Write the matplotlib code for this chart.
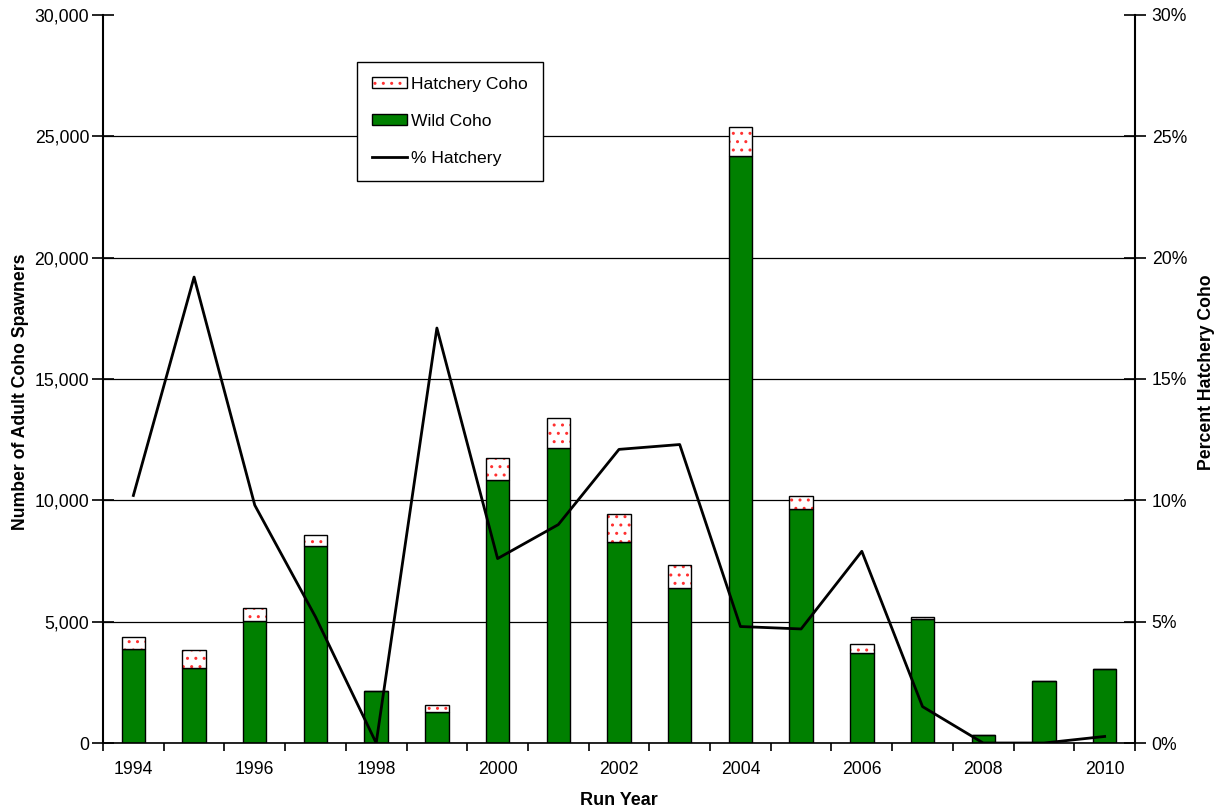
import numpy as np
import matplotlib
matplotlib.use('Agg')
import matplotlib.pyplot as plt
from matplotlib.patches import Patch
from matplotlib.lines import Line2D

plt.rcParams['font.family'] = ['Liberation Sans', 'DejaVu Sans']

years = list(range(1994, 2011))
wild = [3890, 3110, 5040, 8120, 2140, 1290, 10850, 12160, 8280, 6400, 24170, 9660, 3720, 5110, 320, 2550, 3040]
hatchery = [470, 740, 520, 450, 0, 290, 910, 1250, 1140, 920, 1210, 500, 360, 80, 0, 0, 10]
pct_hatchery = [10.2, 19.2, 9.8, 5.2, 0.0, 17.1, 7.6, 9.0, 12.1, 12.3, 4.8, 4.7, 7.9, 1.5, 0.0, 0.0, 0.27]

x = np.arange(len(years))
w = 0.385
green = '#008000'
dotred = '#ff3030'

fig = plt.figure(figsize=(12.22, 8.10), dpi=100)
ax = fig.add_axes([0.0843, 0.0827, 0.8445, 0.8988])

ax.set_axisbelow(True)
ax.yaxis.grid(True, color='black', linewidth=0.9)
ax.bar(x, wild, w, color=green, edgecolor='black', linewidth=1.0, zorder=2)
# hatchery part: red dots on white, then black outline on top
ax.bar(x, hatchery, w, bottom=wild, color='white', edgecolor=dotred, hatch='..', linewidth=0, zorder=2)
ax.bar(x, hatchery, w, bottom=wild, fill=False, edgecolor='black', linewidth=1.0, zorder=3)

ax.set_xlim(-0.5, len(years) - 0.5)
ax.set_ylim(0, 30000)
ax.set_yticks(np.arange(0, 30001, 5000))
ax.set_yticklabels([f'{v:,}' for v in range(0, 30001, 5000)])
ax.yaxis.get_gridlines()[-1].set_visible(False)
ax.tick_params(axis='y', direction='inout', length=16, width=1.2, labelsize=12.7, pad=2)
ax.set_xticks(x[::2])
ax.set_xticklabels([str(y) for y in years[::2]])
ax.set_xticks(np.arange(-0.5, len(years), 1), minor=True)
ax.tick_params(axis='x', which='major', length=0, labelsize=12.7, pad=13)
ax.tick_params(axis='x', which='minor', direction='out', length=6, width=1.2)
ax.spines['top'].set_visible(False)
ax.spines['right'].set_visible(False)
ax.spines['left'].set_linewidth(1.5)
ax.spines['bottom'].set_linewidth(1.2)
ax.set_xlabel('Run Year', fontsize=13, fontweight='bold', labelpad=10)
ax.set_ylabel('Number of Adult Coho Spawners', fontsize=12.7, fontweight='bold')
ax.yaxis.set_label_coords(-0.072, 0.482)

ax2 = ax.twinx()
ax2.plot(x, pct_hatchery, color='black', linewidth=2.0, zorder=4)
ax2.set_ylim(0, 30)
ax2.set_yticks(np.arange(0, 31, 5))
ax2.set_yticklabels([f'{v}%' for v in range(0, 31, 5)])
ax2.tick_params(axis='y', direction='inout', length=16, width=1.2, labelsize=12.7, pad=4)
ax2.spines['top'].set_visible(False)
ax2.spines['left'].set_visible(False)
ax2.spines['bottom'].set_visible(False)
ax2.spines['right'].set_linewidth(1.5)
ax2.set_ylabel('Percent Hatchery Coho', fontsize=12.7, fontweight='bold')
ax2.yaxis.set_label_coords(1.061, 0.51)

hatch_handle = (Patch(facecolor='white', edgecolor=dotred, hatch='..', linewidth=0),
                Patch(facecolor='none', edgecolor='black', linewidth=1.0))
handles = [
    hatch_handle,
    Patch(facecolor=green, edgecolor='black', linewidth=1.0),
    Line2D([0], [0], color='black', linewidth=2.0),
]
leg = ax2.legend(handles, ['Hatchery Coho', 'Wild Coho', '% Hatchery'],
                 loc='upper left', bbox_to_anchor=(357 / 1222, 1 - 62 / 810),
                 bbox_transform=fig.transFigure, fontsize=12.6, frameon=True,
                 fancybox=False, edgecolor='black', framealpha=1,
                 handlelength=2.0, handleheight=0.6, labelspacing=1.25,
                 handletextpad=0.25, borderpad=0.85, borderaxespad=0)
leg.get_frame().set_linewidth(1.0)

plt.savefig('out.png', dpi=100)
plt.close()
